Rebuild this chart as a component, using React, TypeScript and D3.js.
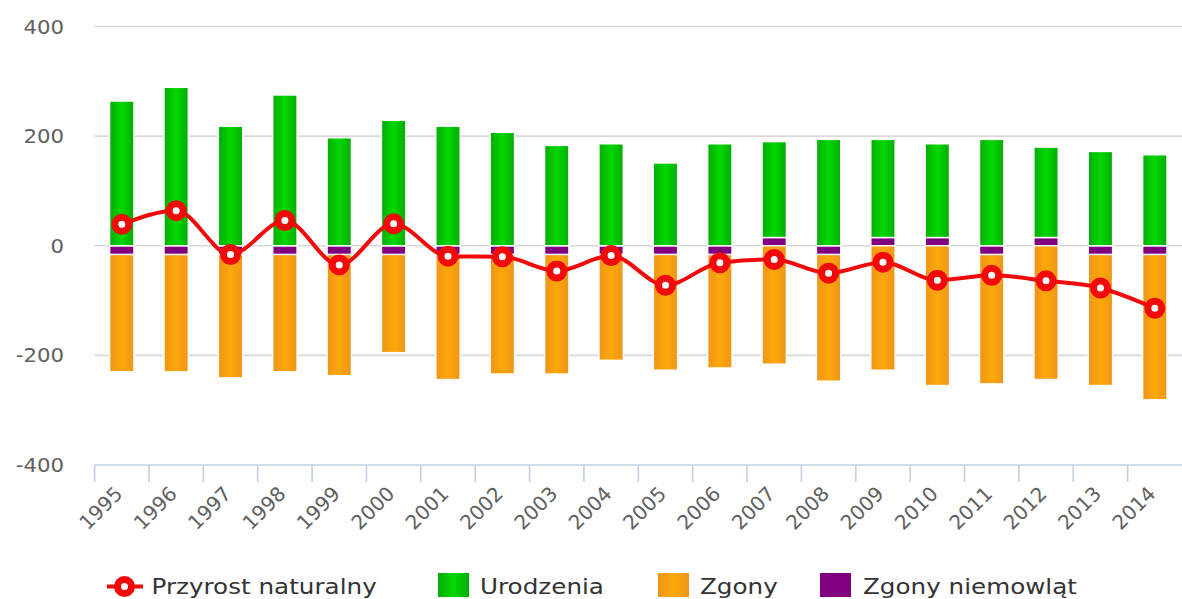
import React from "react";
import * as d3 from "d3";

const years = ["1995","1996","1997","1998","1999","2000","2001","2002","2003","2004","2005","2006","2007","2008","2009","2010","2011","2012","2013","2014"];
const births = [264, 289, 218, 275, 197, 229, 218, 207, 183, 186, 151, 186, 175, 194, 179, 171, 194, 165, 172, 166];
const deaths = [-214, -214, -225, -214, -221, -179, -228, -218, -218, -193, -211, -207, -216, -231, -227, -255, -236, -244, -239, -265];
const infantDeaths = [-16, -16, -16, -16, -16, -16, -16, -16, -16, -16, -16, -16, 15, -16, 15, 15, -16, 15, -16, -16];
const naturalIncrease = [39, 64, -16, 46, -35, 40, -19, -20, -46, -18, -72, -31, -25, -50, -30, -63, -54, -64, -77, -114];
const yTicks = [-400, -200, 0, 200, 400];
const legendItems = ["Przyrost naturalny", "Urodzenia", "Zgony", "Zgony niemowląt"];

const W = 1182;
const H = 599;
const FONT = "'DejaVu Sans', Verdana, sans-serif";
const SX = 1.12;

export default function App() {
  const x = d3.scaleBand<string>().domain(years).range([94.6, 1182]).padding(0);
  const y = d3.scaleLinear().domain([-400, 400]).range([465, 26.5]);
  const bw = x.bandwidth() * 0.447;
  const cx = (i: number) => (x(years[i]) as number) + x.bandwidth() / 2;

  const line = d3
    .line<number>()
    .x((_, i) => cx(i))
    .y((d) => y(d))
    .curve(d3.curveMonotoneX);

  const segs: { x: number; y0: number; y1: number; fill: string; key: string }[] = [];
  years.forEach((yr, i) => {
    const p = infantDeaths[i];
    const posBase = p > 0 ? p : 0;
    const negBase = p < 0 ? p : 0;
    const x0 = cx(i) - bw / 2;
    segs.push({ x: x0, y0: 0, y1: p, fill: "#800080", key: "p" + yr });
    segs.push({ x: x0, y0: posBase, y1: posBase + births[i], fill: "url(#gGreen)", key: "g" + yr });
    segs.push({ x: x0, y0: negBase, y1: negBase + deaths[i], fill: "url(#gOrange)", key: "o" + yr });
  });

  const legendY = 594;
  return (
    <svg
      width={W}
      height={H}
      style={{ position: "absolute", left: 0, top: 0, background: "#fff" }}
      fontFamily={FONT}
    >
      <defs>
        <linearGradient id="gGreen" x1="0" x2="1" y1="0" y2="0">
          <stop offset="0%" stopColor="#02ac02" />
          <stop offset="50%" stopColor="#05d805" />
          <stop offset="100%" stopColor="#02ac02" />
        </linearGradient>
        <linearGradient id="gOrange" x1="0" x2="1" y1="0" y2="0">
          <stop offset="0%" stopColor="#f0941a" />
          <stop offset="50%" stopColor="#fca80a" />
          <stop offset="100%" stopColor="#f0941a" />
        </linearGradient>
      </defs>

      {yTicks.filter((t) => t !== -400).map((t) => (
        <line key={t} x1={94.6} x2={1182} y1={y(t)} y2={y(t)} stroke="#d8d8d8" strokeWidth={1.6} />
      ))}
      {yTicks.map((t) => (
        <text
          key={"yl" + t}
          transform={`translate(64,${y(t) + 7}) scale(${SX},1)`}
          textAnchor="end"
          fontSize={19}
          fill="#606060"
        >
          {t}
        </text>
      ))}

      <line x1={94.6} x2={1182} y1={465} y2={465} stroke="#c0d0e0" strokeWidth={1.6} />
      {years.map((yr) => (
        <line key={"t" + yr} x1={x(yr) as number} x2={x(yr) as number} y1={465} y2={482} stroke="#c0d0e0" strokeWidth={1.6} />
      ))}
      {years.map((yr, i) => (
        <text
          key={"xl" + yr}
          transform={`translate(${cx(i) + 2},495) rotate(-45)`}
          textAnchor="end"
          fontSize={20}
          fill="#606060"
        >
          {yr}
        </text>
      ))}

      {segs.map((s) => (
        <rect
          key={s.key}
          x={s.x}
          width={bw}
          y={Math.min(y(s.y0), y(s.y1))}
          height={Math.abs(y(s.y1) - y(s.y0))}
          fill={s.fill}
          stroke="#ffffff"
          strokeWidth={1.4}
        />
      ))}

      <path d={line(naturalIncrease) || ""} fill="none" stroke="#f00a0a" strokeWidth={4} />
      {naturalIncrease.map((v, i) => (
        <circle key={"m" + i} cx={cx(i)} cy={y(v)} r={7} fill="#ffffff" stroke="#f00a0a" strokeWidth={7} />
      ))}

      <line x1={107} x2={143} y1={586.5} y2={586.5} stroke="#f00a0a" strokeWidth={4} />
      <circle cx={124.5} cy={586.5} r={7} fill="#ffffff" stroke="#f00a0a" strokeWidth={7} />
      <text transform={`translate(151.5,${legendY}) scale(${SX},1)`} fontSize={22} fill="#333333">
        {legendItems[0]}
      </text>

      <rect x={438} y={573} width={31} height={24} fill="url(#gGreen)" />
      <text transform={`translate(480,${legendY}) scale(${SX},1)`} fontSize={22} fill="#333333">
        {legendItems[1]}
      </text>

      <rect x={658} y={573} width={31} height={24} fill="url(#gOrange)" />
      <text transform={`translate(700,${legendY}) scale(${SX},1)`} fontSize={22} fill="#333333">
        {legendItems[2]}
      </text>

      <rect x={820} y={573} width={31} height={24} fill="#800080" />
      <text transform={`translate(863,${legendY}) scale(${SX},1)`} fontSize={22} fill="#333333">
        {legendItems[3]}
      </text>
    </svg>
  );
}
